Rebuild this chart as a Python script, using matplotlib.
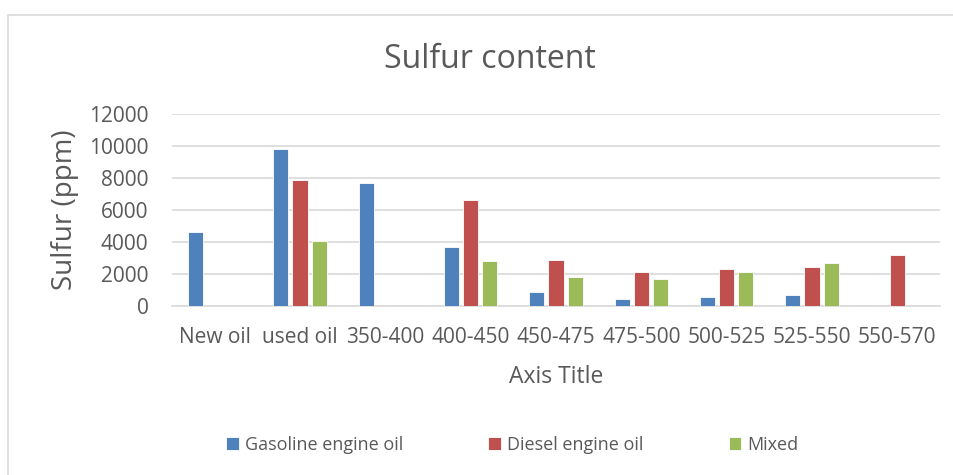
import numpy as np
import matplotlib.pyplot as plt
from matplotlib.patches import Rectangle

categories = ["New oil", "used oil", "350-400", "400-450", "450-475",
              "475-500", "500-525", "525-550", "550-570"]
gasoline = [4620, 9780, 7700, 3670, 830, 400, 550, 670, 0]
diesel = [0, 7850, 0, 6600, 2830, 2100, 2280, 2450, 3200]
mixed = [0, 4020, 0, 2820, 1800, 1650, 2080, 2670, 0]
series_names = ["Gasoline engine oil", "Diesel engine oil", "Mixed"]
colors = ["#4f81bd", "#c0504d", "#9bbb59"]

plt.rcParams['font.family'] = ['Open Sans', 'DejaVu Sans']
text_color = "#595959"

fig = plt.figure(figsize=(9.54, 4.75), dpi=100)
ax = fig.add_axes([172 / 954, 1 - 305.7 / 475, 768 / 954, (305.7 - 114) / 475])

x = np.arange(len(categories))
w = 0.176
step = 0.223
for i, (vals, name, c) in enumerate(zip([gasoline, diesel, mixed], series_names, colors)):
    ax.bar(x + (i - 1) * step, vals, width=w, color=c, label=name,
           edgecolor="white", linewidth=0.6, zorder=3)

ax.set_xlim(-0.5, len(categories) - 0.5)
ax.set_ylim(0, 12000)
ax.set_yticks(np.arange(0, 12001, 2000))
ax.set_xticks(x)
ax.set_xticklabels(categories)
ax.grid(axis="y", color="#d9d9d9", linewidth=1.2, zorder=0)
for s in ["top", "right", "left"]:
    ax.spines[s].set_visible(False)
ax.spines["bottom"].set_color("#d9d9d9")
ax.spines["bottom"].set_linewidth(1.2)
ax.tick_params(axis="both", length=0, labelsize=15, colors=text_color)
ax.tick_params(axis="y", pad=17)
ax.tick_params(axis="x", pad=15.5)

ax.set_ylabel("Sulfur (ppm)", fontsize=20, color=text_color, va="center")
ax.yaxis.set_label_coords((65 - 172) / 768, 0.5)
ax.set_xlabel("Axis Title", fontsize=16.5, color=text_color, va="center")
ax.xaxis.set_label_coords(0.5, (305.7 - 377) / 191.7)
fig.text(489.5 / 954, 1 - 60 / 475, "Sulfur content", fontsize=23, color=text_color,
         ha="center", va="center")

ax.legend(loc="center", bbox_to_anchor=(512.5 / 954, 1 - 445 / 475), bbox_transform=fig.transFigure,
          ncol=3, frameon=False, fontsize=13, labelcolor=text_color,
          handlelength=0.7, handleheight=0.7, handletextpad=0.35, columnspacing=4.7)

fig.patches.append(Rectangle((8 / 954, -0.1), 1.2, 1 - 15 / 475 + 0.1,
                             transform=fig.transFigure, fill=False,
                             edgecolor="#d9d9d9", linewidth=1.2))

fig.savefig("out.png", dpi=100)
